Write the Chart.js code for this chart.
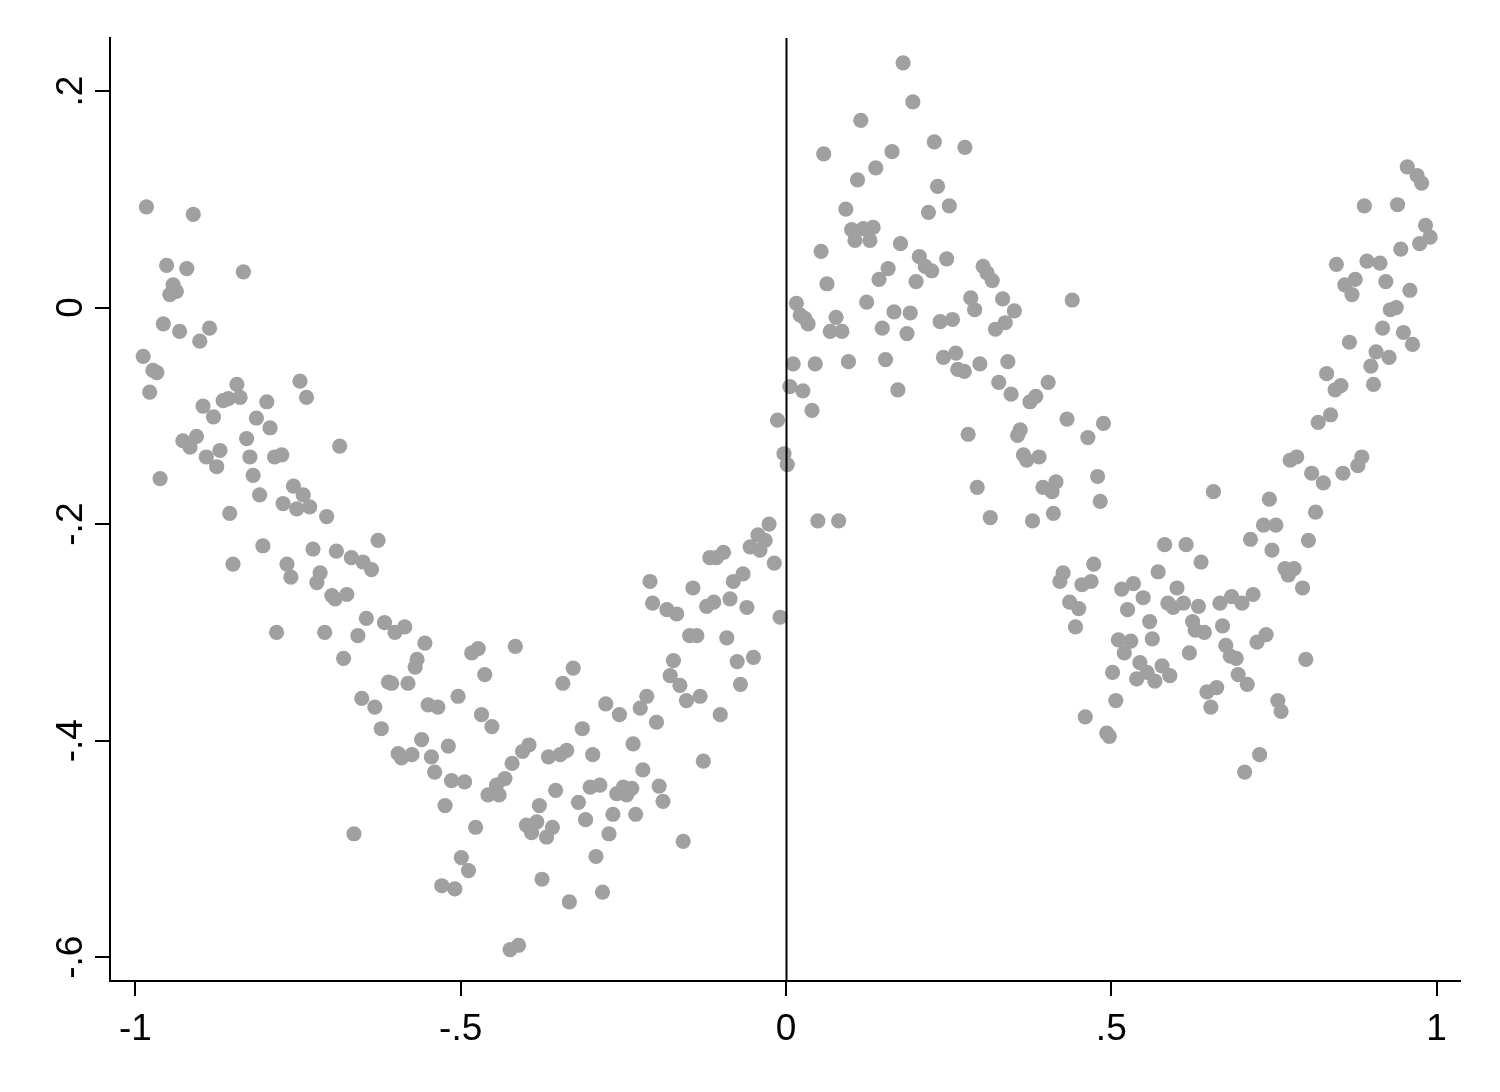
<!DOCTYPE html>
<html>
<head>
<meta charset="utf-8">
<title>Scatter with reference line</title>
<script src="https://cdn.jsdelivr.net/npm/chart.js@4.4.1/dist/chart.umd.min.js"></script>
<style>
  html, body { margin: 0; padding: 0; background: #fff; }
  #wrap { width: 1500px; height: 1092px; }
</style>
</head>
<body>
<div id="wrap"><canvas id="scatter" width="1500" height="1092"></canvas></div>
<script>
// ── Data (x, y), grouped by region ──────────────────────────
const leftArm = [
  [-0.983,0.093],[-0.911,0.086],[-0.952,0.039],[-0.921,0.036],[-0.834,0.033],[-0.942,0.021],
  [-0.947,0.012],[-0.937,0.015],[-0.957,-0.015],[-0.932,-0.022],[-0.886,-0.019],[-0.901,-0.031],
  [-0.988,-0.045],[-0.973,-0.058],[-0.967,-0.060],[-0.978,-0.078],[-0.927,-0.123],[-0.916,-0.129],
  [-0.962,-0.158],
  [-0.844,-0.071],[-0.747,-0.068],[-0.737,-0.083],[-0.896,-0.091],[-0.865,-0.086],[-0.857,-0.084],
  [-0.839,-0.083],[-0.798,-0.087],[-0.880,-0.101],[-0.814,-0.102],[-0.793,-0.111],[-0.906,-0.119],
  [-0.829,-0.121],[-0.870,-0.132],[-0.891,-0.138],[-0.875,-0.147],[-0.824,-0.138],[-0.786,-0.138],
  [-0.775,-0.136],[-0.686,-0.128],[-0.819,-0.155],[-0.809,-0.173],[-0.757,-0.165],[-0.742,-0.173],
  [-0.773,-0.181],[-0.752,-0.186],[-0.732,-0.184],[-0.706,-0.193],[-0.855,-0.190],[-0.627,-0.215],
  [-0.804,-0.220],[-0.727,-0.223],[-0.691,-0.225],[-0.668,-0.231],[-0.650,-0.235],[-0.637,-0.242],
  [-0.850,-0.237],[-0.767,-0.237],[-0.761,-0.249],[-0.716,-0.245],[-0.721,-0.254],[-0.698,-0.266],
  [-0.693,-0.269],[-0.675,-0.265],[-0.645,-0.287],[-0.783,-0.300]
];

const valleyLeft = [
  [-0.709,-0.300],[-0.617,-0.291],[-0.601,-0.300],[-0.586,-0.295],[-0.658,-0.303],[-0.680,-0.324],
  [-0.555,-0.310],[-0.483,-0.319],[-0.473,-0.315],[-0.416,-0.313],[-0.567,-0.325],[-0.570,-0.332],
  [-0.463,-0.339],[-0.343,-0.347],[-0.611,-0.346],[-0.606,-0.347],[-0.581,-0.347],[-0.652,-0.361],
  [-0.632,-0.369],[-0.550,-0.367],[-0.535,-0.369],[-0.504,-0.359],[-0.468,-0.376],[-0.452,-0.387],
  [-0.622,-0.389],[-0.560,-0.399],[-0.519,-0.405],[-0.596,-0.412],[-0.591,-0.416],[-0.575,-0.413],
  [-0.545,-0.415],[-0.540,-0.429],[-0.514,-0.437],[-0.494,-0.438],[-0.395,-0.404],[-0.405,-0.410],
  [-0.421,-0.421],[-0.365,-0.415],[-0.347,-0.413],[-0.337,-0.409],[-0.432,-0.435],[-0.445,-0.441],
  [-0.458,-0.450],[-0.441,-0.450],[-0.354,-0.446],[-0.379,-0.460],[-0.319,-0.457],[-0.524,-0.460],
  [-0.399,-0.478],[-0.383,-0.475],[-0.391,-0.485],[-0.368,-0.489],[-0.359,-0.480],[-0.477,-0.480],
  [-0.664,-0.486],[-0.499,-0.508],[-0.488,-0.520],[-0.529,-0.534],[-0.509,-0.537],[-0.375,-0.528],
  [-0.333,-0.549],[-0.424,-0.593],[-0.411,-0.589]
];

const valleyRight = [
  [-0.026,-0.200],[-0.043,-0.210],[-0.032,-0.215],[-0.055,-0.221],[-0.040,-0.224],[-0.117,-0.231],
  [-0.107,-0.231],[-0.096,-0.226],[-0.018,-0.236],[-0.209,-0.253],[-0.143,-0.259],[-0.066,-0.246],
  [-0.081,-0.253],[-0.086,-0.269],[-0.122,-0.276],[-0.111,-0.272],[-0.060,-0.277],[-0.205,-0.273],
  [-0.183,-0.279],[-0.168,-0.283],[-0.009,-0.286],[-0.148,-0.303],[-0.137,-0.303],[-0.091,-0.305],
  [-0.173,-0.326],[-0.075,-0.327],[-0.050,-0.323],[-0.178,-0.340],[-0.163,-0.349],[-0.070,-0.348],
  [-0.153,-0.363],[-0.132,-0.359],[-0.214,-0.359],[-0.224,-0.370],[-0.277,-0.366],[-0.256,-0.376],
  [-0.199,-0.383],[-0.101,-0.376],[-0.327,-0.333],[-0.313,-0.389],[-0.235,-0.403],[-0.297,-0.413],
  [-0.127,-0.419],[-0.220,-0.427],[-0.301,-0.443],[-0.286,-0.441],[-0.260,-0.449],[-0.250,-0.443],
  [-0.245,-0.450],[-0.237,-0.444],[-0.195,-0.442],[-0.189,-0.456],[-0.308,-0.473],[-0.266,-0.468],
  [-0.231,-0.468],[-0.272,-0.486],[-0.158,-0.493],[-0.292,-0.507],[-0.282,-0.540]
];

const hump = [
  [0.180,0.226],[0.195,0.190],[0.115,0.173],[0.058,0.142],[0.228,0.153],[0.275,0.148],
  [0.163,0.144],[0.138,0.129],[0.110,0.118],[0.233,0.112],[0.251,0.094],[0.219,0.088],
  [0.092,0.091],[0.101,0.072],[0.119,0.073],[0.134,0.074],[0.106,0.062],[0.129,0.062],
  [0.176,0.059],[0.054,0.052],[0.205,0.047],[0.214,0.038],[0.224,0.034],[0.200,0.024],
  [0.247,0.045],[0.303,0.038],[0.317,0.025],[0.309,0.032],[0.157,0.036],[0.143,0.026],
  [0.063,0.022],[0.284,0.009],[0.333,0.008],[0.016,0.004],[0.022,-0.007],[0.029,-0.010],
  [0.034,-0.015],[0.124,0.005],[0.077,-0.009],[0.068,-0.022],[0.086,-0.022],[0.166,-0.004],
  [0.191,-0.005],[0.148,-0.019],[0.186,-0.024],[0.237,-0.013],[0.256,-0.011],[0.290,-0.002],
  [0.351,-0.003],[0.337,-0.014],[0.322,-0.020],[0.440,0.007],[0.011,-0.052],[0.045,-0.052],
  [0.096,-0.050],[0.153,-0.048],[0.242,-0.046],[0.261,-0.042],[0.264,-0.057],[0.274,-0.059],
  [0.298,-0.052],[0.341,-0.050],[0.006,-0.073],[0.026,-0.077],[0.172,-0.076],[0.327,-0.069],
  [0.346,-0.080],[0.403,-0.069],[0.375,-0.087],[0.384,-0.082],[0.040,-0.095],[-0.013,-0.104],
  [0.280,-0.117],[0.360,-0.113],[0.356,-0.118],[0.432,-0.103],[0.488,-0.107],[0.464,-0.120],
  [-0.003,-0.135],[0.002,-0.145],[0.365,-0.136],[0.370,-0.141],[0.389,-0.138],[0.479,-0.156],
  [0.294,-0.166],[0.395,-0.166],[0.409,-0.170],[0.415,-0.161],[0.483,-0.179],[0.049,-0.197],
  [0.081,-0.197],[0.314,-0.194],[0.379,-0.197],[0.411,-0.190]
];

const valleyTwo = [
  [0.657,-0.170],[0.582,-0.219],[0.615,-0.219],[0.638,-0.235],[0.426,-0.245],[0.421,-0.253],
  [0.473,-0.237],[0.455,-0.256],[0.469,-0.253],[0.572,-0.244],[0.516,-0.260],[0.534,-0.255],
  [0.549,-0.268],[0.601,-0.259],[0.587,-0.273],[0.595,-0.277],[0.611,-0.273],[0.634,-0.276],
  [0.667,-0.273],[0.685,-0.267],[0.701,-0.273],[0.718,-0.265],[0.436,-0.272],[0.450,-0.278],
  [0.525,-0.279],[0.445,-0.295],[0.559,-0.290],[0.625,-0.290],[0.629,-0.298],[0.643,-0.300],
  [0.671,-0.294],[0.511,-0.307],[0.530,-0.308],[0.520,-0.319],[0.563,-0.306],[0.620,-0.319],
  [0.676,-0.312],[0.683,-0.322],[0.692,-0.324],[0.724,-0.309],[0.738,-0.302],[0.799,-0.325],
  [0.544,-0.328],[0.539,-0.343],[0.555,-0.337],[0.567,-0.345],[0.578,-0.331],[0.590,-0.340],
  [0.502,-0.337],[0.695,-0.339],[0.709,-0.348],[0.647,-0.355],[0.662,-0.351],[0.653,-0.369],
  [0.507,-0.363],[0.756,-0.363],[0.761,-0.373],[0.460,-0.378],[0.493,-0.393],[0.497,-0.396],
  [0.728,-0.413],[0.705,-0.429]
];

const rightArm = [
  [0.955,0.130],[0.970,0.122],[0.977,0.115],[0.889,0.094],[0.940,0.095],[0.983,0.076],
  [0.990,0.065],[0.974,0.059],[0.945,0.054],[0.846,0.040],[0.893,0.043],[0.913,0.041],
  [0.875,0.026],[0.859,0.021],[0.870,0.012],[0.922,0.024],[0.959,0.016],[0.929,-0.002],
  [0.938,0.000],[0.917,-0.019],[0.949,-0.023],[0.963,-0.034],[0.866,-0.032],[0.907,-0.041],
  [0.927,-0.046],[0.899,-0.054],[0.903,-0.071],[0.831,-0.061],[0.844,-0.076],[0.853,-0.072],
  [0.837,-0.099],[0.818,-0.106],[0.775,-0.141],[0.785,-0.138],[0.808,-0.153],[0.826,-0.162],
  [0.856,-0.153],[0.885,-0.138],[0.879,-0.146],[0.743,-0.177],[0.814,-0.189],[0.734,-0.201],
  [0.753,-0.201],[0.714,-0.214],[0.747,-0.224],[0.803,-0.215],[0.767,-0.241],[0.781,-0.241],
  [0.772,-0.247],[0.794,-0.259]
];

// ── Axes ────────────────────────────────────────────────────
const xTicks = [-1, -0.5, 0, 0.5, 1];
const xTickLabels = ['-1', '-.5', '0', '.5', '1'];
const yTicks = [-0.6, -0.4, -0.2, 0, 0.2];
const yTickLabels = ['-.6', '-.4', '-.2', '0', '.2'];
const xRange = [-1.039, 1.036];
const yRange = [-0.622, 0.249];
const refLineX = 0;

const GREY = '#a0a0a0';
const FONT = '37px "Liberation Sans", Arial, sans-serif';

const points = [...leftArm, ...valleyLeft, ...valleyRight, ...hump, ...valleyTwo, ...rightArm]
  .map(([x, y]) => ({ x, y }));

// ── Plugins: reference line + Stata-style labels ────────────
const refLine = {
  id: 'refLine',
  afterDatasetsDraw(chart) {
    const { ctx, chartArea, scales } = chart;
    const px = Math.round(scales.x.getPixelForValue(refLineX)) + 0.5;
    ctx.save();
    ctx.strokeStyle = '#000';
    ctx.lineWidth = 2;
    ctx.beginPath();
    ctx.moveTo(px, chartArea.top);
    ctx.lineTo(px, chartArea.bottom);
    ctx.stroke();
    ctx.restore();
  }
};

const axisLabels = {
  id: 'axisLabels',
  afterDraw(chart) {
    const { ctx, scales, chartArea } = chart;
    ctx.save();
    ctx.fillStyle = '#000';
    ctx.font = FONT;
    ctx.textBaseline = 'alphabetic';
    ctx.textAlign = 'center';
    xTicks.forEach((v, i) => {
      ctx.fillText(xTickLabels[i], scales.x.getPixelForValue(v), chartArea.bottom + 59);
    });
    yTicks.forEach((v, i) => {
      ctx.save();
      ctx.translate(chartArea.left - 28, scales.y.getPixelForValue(v));
      ctx.rotate(-Math.PI / 2);
      ctx.fillText(yTickLabels[i], 0, 0);
      ctx.restore();
    });
    ctx.restore();
  }
};

// ── Chart ───────────────────────────────────────────────────
new Chart(document.getElementById('scatter'), {
  type: 'scatter',
  data: {
    datasets: [{
      data: points,
      pointRadius: 7.6,
      pointBorderWidth: 0,
      pointBackgroundColor: GREY,
      pointBorderColor: GREY,
    }]
  },
  options: {
    responsive: false,
    animation: false,
    events: [],
    layout: { padding: { top: 38, right: 40, bottom: 0, left: 0 } },
    plugins: { legend: { display: false }, tooltip: { enabled: false } },
    scales: {
      x: {
        type: 'linear',
        min: xRange[0],
        max: xRange[1],
        afterBuildTicks: s => { s.ticks = xTicks.map(v => ({ value: v })); },
        afterFit: s => { s.height = 111; },
        ticks: { display: false },
        grid: { drawOnChartArea: false, drawTicks: true, tickLength: 15, color: '#000', lineWidth: 2 },
        border: { display: true, color: '#000', width: 2 }
      },
      y: {
        type: 'linear',
        min: yRange[0],
        max: yRange[1],
        afterBuildTicks: s => { s.ticks = yTicks.map(v => ({ value: v })); },
        afterFit: s => { s.width = 110; },
        ticks: { display: false },
        grid: { drawOnChartArea: false, drawTicks: true, tickLength: 15, color: '#000', lineWidth: 2 },
        border: { display: true, color: '#000', width: 2 }
      }
    }
  },
  plugins: [refLine, axisLabels]
});
</script>
</body>
</html>
